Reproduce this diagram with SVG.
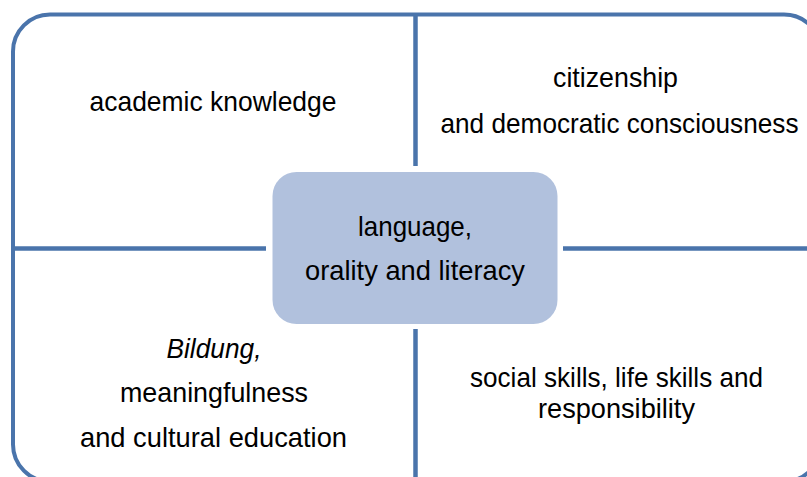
<svg xmlns="http://www.w3.org/2000/svg" width="807" height="477" viewBox="0 0 807 477">
  <style>
    .frame { fill: none; stroke: #4a74ab; stroke-width: 4; }
    .divider { stroke: #4a74ab; stroke-width: 4.5; fill: none; }
    .hub { fill: #b1c1dd; stroke: none; }
    .label { font-family: "Liberation Sans", Arial, sans-serif; font-size: 28px; fill: #000; text-anchor: middle; }
    .em { font-style: italic; }
  </style>
  <rect width="807" height="477" fill="#ffffff"/>

  <!-- outer frame (extends past the right and bottom edges) -->
  <rect class="frame" x="13" y="14.5" width="808" height="467" rx="37" ry="37"/>

  <!-- quadrant dividers -->
  <g id="connectors">
    <line class="divider" x1="415.5" y1="14" x2="415.5" y2="166"/>
    <line class="divider" x1="415.5" y1="329" x2="415.5" y2="482"/>
    <line class="divider" x1="13" y1="248.5" x2="266" y2="248.5"/>
    <line class="divider" x1="563" y1="248.5" x2="822" y2="248.5"/>
  </g>

  <g id="academic">
    <text class="label" x="213" y="111" textLength="247" lengthAdjust="spacingAndGlyphs">academic knowledge</text>
  </g>

  <g id="citizenship">
    <text class="label" x="615.5" y="86.5" textLength="125" lengthAdjust="spacingAndGlyphs">citizenship</text>
    <text class="label" x="619.5" y="132.5" textLength="358" lengthAdjust="spacingAndGlyphs">and democratic consciousness</text>
  </g>

  <g id="bildung">
    <text class="label em" x="214" y="357.5" textLength="95" lengthAdjust="spacingAndGlyphs">Bildung,</text>
    <text class="label" x="214" y="402" textLength="188" lengthAdjust="spacingAndGlyphs">meaningfulness</text>
    <text class="label" x="213.5" y="446.5" textLength="267" lengthAdjust="spacingAndGlyphs">and cultural education</text>
  </g>

  <g id="social">
    <text class="label" x="616.5" y="387" textLength="293" lengthAdjust="spacingAndGlyphs">social skills, life skills and</text>
    <text class="label" x="616.5" y="418" textLength="157" lengthAdjust="spacingAndGlyphs">responsibility</text>
  </g>

  <g id="language">
    <rect class="hub" x="272.5" y="172" width="285" height="152" rx="24" ry="24"/>
    <text class="label" x="415" y="236" textLength="114" lengthAdjust="spacingAndGlyphs">language,</text>
    <text class="label" x="415" y="280" textLength="220" lengthAdjust="spacingAndGlyphs">orality and literacy</text>
  </g>
</svg>
